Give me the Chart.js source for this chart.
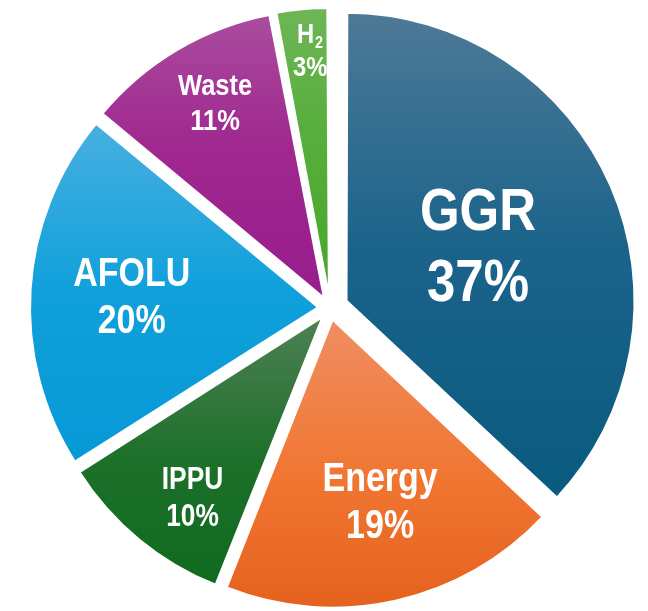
<!DOCTYPE html>
<html>
<head>
<meta charset="utf-8">
<script src="https://cdn.jsdelivr.net/npm/chart.js@4"></script>
<style>
  html, body { margin: 0; padding: 0; background: #fff; }
  #wrap { width: 648px; height: 611px; }
</style>
</head>
<body>
<div id="wrap"><canvas id="pieChart"></canvas></div>
<script>
const categories = ['GGR', 'Energy', 'IPPU', 'AFOLU', 'Waste', 'H2'];
const shares = [37, 19, 10, 20, 11, 3];
const shareLabels = shares.map(v => v + '%');

// colours, top of slice -> middle -> bottom of slice
const topColors = ['#4f7a97', '#f08c5e', '#4b7f52', '#48afe0', '#aa4f9f', '#70b658'];
const midColors = ['#1b638a', '#f07632', '#1d702a', '#10a0db', '#a0288f', '#56ae3b'];
const bottomColors = ['#0a5a80', '#e4601c', '#0e6a1e', '#0799d6', '#981e8c', '#48a82a'];

const RADIUS = 288;
const sliceShift = [18, 12, 12, 12, 12, 12];   // px pulled out of the centre
const labelDist = [0.56, 0.69, 0.81, 0.69, 0.82, 0.90];
const labelTurn = [0, -2, -3.5, 0, 1.5, 1];     // degrees
const labelSize = [60, 40, 31, 40, 30, 28];

function sliceFill(c) {
    const chart = c.chart, area = chart.chartArea, i = c.dataIndex;
    if (!area) return bottomColors[i];
    const cy = (area.top + area.bottom) / 2;
    const total = shares.reduce((a, b) => a + b, 0);
    let before = 0;
    for (let k = 0; k < i; k++) before += shares[k];
    const a0 = before / total * 2 * Math.PI;
    const a1 = (before + shares[i]) / total * 2 * Math.PI;
    const mid = (a0 + a1) / 2;
    const oy = cy - sliceShift[i] * Math.cos(mid);
    const ys = [oy, oy - RADIUS * Math.cos(a0), oy - RADIUS * Math.cos(a1)];
    if (a0 <= 0) ys.push(oy - RADIUS);
    if (a0 < Math.PI && a1 > Math.PI) ys.push(oy + RADIUS);
    const g = chart.ctx.createLinearGradient(0, Math.min(...ys), 0, Math.max(...ys));
    g.addColorStop(0, topColors[i]);
    g.addColorStop(0.5, midColors[i]);
    g.addColorStop(1, bottomColors[i]);
    return g;
}

// chart.js grows small offset slices a bit, keep them all the same size
const keepRadius = {
    id: 'keepRadius',
    beforeDatasetsDraw(chart) {
        chart.getDatasetMeta(0).data.forEach(arc => {
            const circ = arc.endAngle - arc.startAngle;
            const fix = 1 - Math.sin(Math.min(Math.PI, circ));
            arc.outerRadius = RADIUS - (arc.options.offset / 4) * fix;
        });
    }
};

function drawText(ctx, text, x, y, size) {
    ctx.save();
    ctx.translate(x, y);
    ctx.scale(0.85, 1);
    ctx.font = 'bold ' + size + 'px "Liberation Sans", Arial, sans-serif';
    const m = text.match(/^([A-Za-z]+)(\d)$/);
    if (m) {
        // chemical formula, subscript the digit
        const w1 = ctx.measureText(m[1]).width;
        ctx.font = 'bold ' + Math.round(size * 0.62) + 'px "Liberation Sans", Arial, sans-serif';
        const w2 = ctx.measureText(m[2]).width;
        ctx.textAlign = 'left';
        const left = -(w1 + w2 + 1) / 2;
        ctx.fillText(m[2], left + w1 + 1, size * 0.18);
        ctx.font = 'bold ' + size + 'px "Liberation Sans", Arial, sans-serif';
        ctx.fillText(m[1], left, 0);
    } else {
        ctx.textAlign = 'center';
        ctx.fillText(text, 0, 0);
    }
    ctx.restore();
}

const sliceLabels = {
    id: 'sliceLabels',
    afterDatasetsDraw(chart) {
        const ctx = chart.ctx;
        chart.getDatasetMeta(0).data.forEach((arc, i) => {
            const mid = (arc.startAngle + arc.endAngle) / 2 + labelTurn[i] * Math.PI / 180;
            const r = labelDist[i] * RADIUS;
            const x = arc.x + Math.cos(mid) * r;
            const y = arc.y + Math.sin(mid) * r;
            const s = labelSize[i], gap = s * 1.18;
            const base = y + (0.716 * s - gap) / 2;
            ctx.save();
            ctx.fillStyle = '#ffffff';
            ctx.textBaseline = 'alphabetic';
            drawText(ctx, categories[i], x, base, s);
            drawText(ctx, shareLabels[i], x, base + gap, s);
            ctx.restore();
        });
    }
};

new Chart(document.getElementById('pieChart'), {
    type: 'pie',
    data: {
        labels: categories,
        datasets: [{
            data: shares,
            radius: RADIUS,
            backgroundColor: sliceFill,
            borderColor: '#ffffff',
            borderWidth: 2,
            offset: sliceShift.map(v => v * 4)
        }]
    },
    options: {
        responsive: true,
        maintainAspectRatio: false,
        animation: false,
        events: [],
        layout: { padding: { left: 12, top: 5, right: 0, bottom: 0 } },
        plugins: {
            legend: { display: false },
            tooltip: { enabled: false }
        }
    },
    plugins: [keepRadius, sliceLabels]
});
</script>
</body>
</html>
